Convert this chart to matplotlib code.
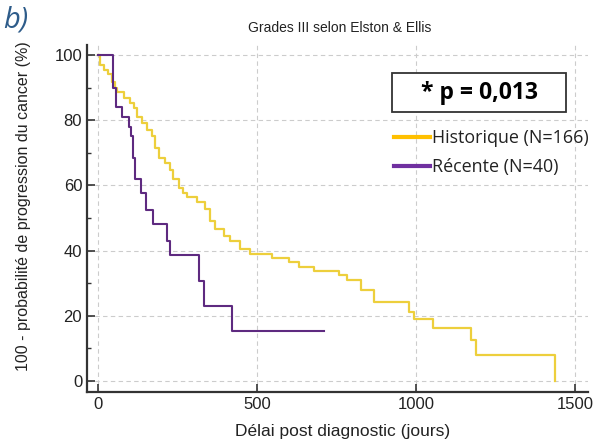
import matplotlib
matplotlib.use('Agg')
import matplotlib.pyplot as plt
from matplotlib.lines import Line2D
from matplotlib.patches import Rectangle
from matplotlib.ticker import MultipleLocator

# Historique (N=166): step times (jours) and survival after each step (%)
hist_t = [0, 6, 20, 32, 43, 52, 59, 80, 101, 113, 122, 138, 153, 169, 180, 190,
          211, 227, 237, 253, 266, 280, 311, 337, 353, 369, 395, 416, 447, 479,
          547, 600, 631, 679, 757, 784, 828, 866, 978, 994, 1052, 1172, 1188, 1437]
hist_s = [100, 97, 95.5, 94.3, 91.8, 90, 88.7, 86.7, 85.2, 83.6, 81.1, 79, 77, 75,
          71.4, 68.4, 66.8, 64.8, 61.8, 59.2, 57.5, 56.5, 55, 52.6, 49.1, 46.5,
          44.5, 43, 40.4, 38.9, 37.7, 36.4, 35.1, 33.8, 32.5, 31, 28, 24.2, 21.1,
          19.1, 16.3, 12.5, 7.9, 0]

# Récente (N=40)
rec_t = [0, 48, 57, 75, 96, 103, 109, 117, 134, 151, 174, 216, 227, 316, 332, 421, 710]
rec_s = [100, 90, 84, 81, 78, 75, 68.5, 62, 57.5, 52.5, 48, 43, 38.5, 30.8, 23.1,
         15.4, 15.4]

xticks = [0, 500, 1000, 1500]
yticks = [0, 20, 40, 60, 80, 100]

c_hist = '#EDCF3C'
c_rec = '#5E2A80'
calibri_like = ['Open Sans', 'DejaVu Sans']

fig = plt.figure(figsize=(6.02, 4.47), dpi=100)
ax = fig.add_axes([0.1445, 0.123, 0.8325, 0.776])

ax.step(hist_t, hist_s, where='post', color=c_hist, lw=1.6, zorder=3)
ax.step(rec_t, rec_s, where='post', color=c_rec, lw=1.5, zorder=4)

ax.set_xlim(-35, 1541)
ax.set_ylim(-3.4, 103)
ax.set_xticks(xticks)
ax.set_yticks(yticks)
ax.yaxis.set_minor_locator(MultipleLocator(10))
ax.tick_params(axis='both', which='major', direction='in', length=6, width=1.2,
               color='#333333', labelsize=12, labelcolor='#222222')
ax.tick_params(axis='y', which='minor', direction='in', length=3, width=1.0,
               color='#333333')
for lab in ax.get_xticklabels() + ax.get_yticklabels():
    lab.set_family('Liberation Sans')

ax.grid(True, which='major', ls=(0, (4, 3)), color='#cccccc', lw=0.8)
ax.set_axisbelow(True)
for side in ['top', 'right']:
    ax.spines[side].set_visible(False)
for side in ['left', 'bottom']:
    ax.spines[side].set_color('#333333')
    ax.spines[side].set_linewidth(1.6)

ax.set_xlabel('Délai post diagnostic (jours)', family='Liberation Sans',
              fontsize=12.5, color='#222222')
ax.xaxis.set_label_coords(0.509, -0.092)
ax.set_ylabel('100 - probabilité de progression du cancer (%)',
              family='Liberation Sans', fontsize=11.5, color='#222222')
ax.yaxis.set_label_coords(-0.112, 0.536)
fig.text(0.565, 0.938, 'Grades III selon Elston & Ellis', family='Liberation Sans',
         fontsize=10, color='#222222', ha='center', va='center')
fig.text(0.006, 0.955, 'b)', family=calibri_like, style='italic',
         fontsize=21, color='#2E5C8A', ha='left', va='center')

# p-value box
fig.patches.append(Rectangle((392 / 602, 1 - 112 / 447), 174 / 602, 39 / 447,
                             transform=fig.transFigure, fc='white', ec='#333333',
                             lw=1.3, zorder=5))
fig.text(479 / 602, 1 - 93 / 447, '* p = 0,013', family=calibri_like,
         fontweight='bold', fontsize=16.5, color='black', ha='center',
         va='center', zorder=6)

handles = [Line2D([], [], color='#FFC000', lw=3),
           Line2D([], [], color='#7030A0', lw=3)]
leg = ax.legend(handles, ['Historique (N=166)', 'Récente (N=40)'],
                loc='upper left', bbox_to_anchor=(0.612, 0.757), frameon=False,
                handlelength=2.0, handletextpad=0.15, labelspacing=0.6,
                prop={'family': calibri_like, 'size': 12.9},
                borderaxespad=0, borderpad=0)
for t in leg.get_texts():
    t.set_color('#222222')

fig.savefig('out.png', dpi=100)
